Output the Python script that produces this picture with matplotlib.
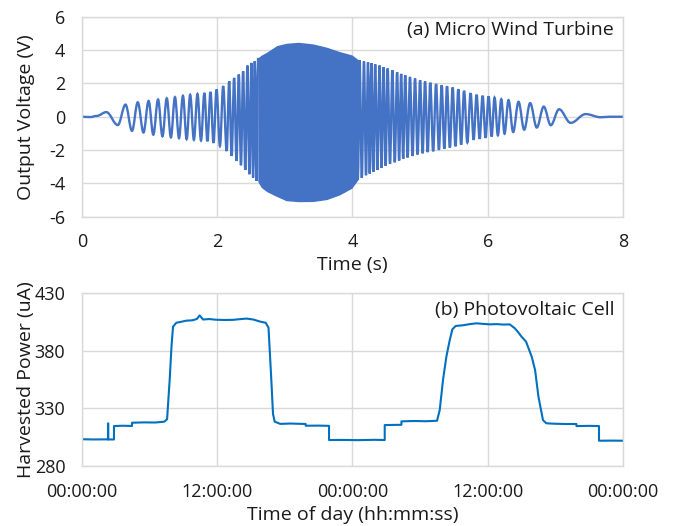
import matplotlib
matplotlib.use("Agg")
import matplotlib.pyplot as plt
from matplotlib.path import Path
from matplotlib.patches import PathPatch

plt.rcParams['font.family'] = ['Open Sans', 'DejaVu Sans']
plt.rcParams['axes.unicode_minus'] = False

# (a) micro wind turbine: peaks / troughs (s, V)
ext_t = [0.00, 0.12, 0.22, 0.36, 0.53, 0.644, 0.74, 0.825, 0.91, 0.985,
         1.055, 1.125, 1.19, 1.254, 1.315, 1.375, 1.435, 1.493, 1.548, 1.60,
         1.655, 1.708, 1.76, 1.81, 1.855, 1.90, 1.945, 1.99, 2.04, 2.088,
         2.14, 2.177, 2.213, 2.25, 2.285, 2.319, 2.351, 2.383, 2.415, 2.447,
         2.476, 2.506, 2.53, 2.555, 2.58, 2.604]
ext_v = [0.00, -0.02, 0.05, 0.28, -0.50, 0.73, -0.85, 0.87, -0.95, 0.95,
         -1.08, 1.04, -1.18, 1.11, -1.24, 1.18, -1.29, 1.26, -1.35, 1.32,
         -1.39, 1.37, -1.43, 1.43, -1.48, 1.50, -1.58, 1.64, -1.76, 1.84,
         -2.06, 2.14, -2.36, 2.34, -2.66, 2.54, -2.92, 2.74, -3.20, 3.08,
         -3.46, 3.24, -3.66, 3.34, -3.86, 3.54]

# solid band where the cycles are too dense to separate
env_t = [2.60, 2.65, 2.73, 2.88, 3.02, 3.20, 3.42, 3.62, 3.81, 3.99, 4.08]
env_hi = [3.54, 3.70, 3.88, 4.28, 4.42, 4.48, 4.38, 4.18, 3.92, 3.72, 3.45]
env_lo = [-3.90, -4.25, -4.50, -4.80, -5.05, -5.11, -5.10, -4.98, -4.70, -4.30, -3.80]

ext2_t = [4.08, 4.105, 4.138, 4.17, 4.20, 4.23, 4.255, 4.28, 4.308, 4.336,
          4.368, 4.40, 4.43, 4.46, 4.49, 4.52, 4.555, 4.59, 4.625, 4.66,
          4.69, 4.72, 4.75, 4.78, 4.815, 4.85, 4.888, 4.925, 4.962, 5.00,
          5.037, 5.073, 5.112, 5.15, 5.193, 5.236, 5.278, 5.319, 5.358, 5.398,
          5.44, 5.481, 5.523, 5.565, 5.607, 5.65, 5.698, 5.747, 5.791, 5.835,
          5.88, 5.924, 5.968, 6.012, 6.057, 6.101, 6.15, 6.20, 6.248, 6.307,
          6.376, 6.455, 6.539, 6.627, 6.725, 6.828, 6.932, 7.055, 7.227, 7.448,
          7.669, 7.80, 8.00]
ext2_v = [-3.80, 3.40, -3.68, 3.33, -3.52, 3.27, -3.42, 3.22, -3.32, 3.15,
          -3.20, 3.08, -3.08, 2.98, -2.95, 2.90, -2.84, 2.80, -2.74, 2.68,
          -2.63, 2.58, -2.53, 2.49, -2.45, 2.40, -2.36, 2.30, -2.27, 2.20,
          -2.20, 2.12, -2.13, 2.05, -2.08, 1.98, -2.00, 1.90, -1.93, 1.84,
          -1.86, 1.76, -1.78, 1.66, -1.68, 1.56, -1.55, 1.42, -1.39, 1.33,
          -1.33, 1.27, -1.27, 1.23, -1.19, 1.15, -1.12, 1.06, -1.02, 1.00,
          -0.92, 0.90, -0.78, 0.82, -0.65, 0.61, -0.51, 0.45, -0.37, 0.16,
          -0.03, 0.00, 0.00]

# (b) photovoltaic cell over two days (hours, uA)
pv_h = [0.0, 1.0, 2.31, 2.31, 2.33, 2.33, 2.84, 2.84, 3.6, 4.44,
        4.44, 5.5, 6.5, 7.3, 7.55, 7.78, 7.95, 8.08, 8.37, 8.8,
        9.25, 9.8, 10.2, 10.44, 10.74, 11.3, 11.9, 12.6, 13.4, 14.0,
        14.6, 15.2, 15.8, 16.3, 16.55, 16.8, 16.95, 17.1, 17.6, 18.5,
        19.85, 19.85, 21.0, 21.92, 21.92, 23.0, 24.5, 26.0, 26.86, 26.86,
        28.34, 28.34, 29.5, 30.5, 31.5, 31.74, 32.03, 32.33, 32.63, 32.86,
        33.16, 33.8, 34.4, 35.0, 35.6, 36.18, 36.8, 37.4, 37.95, 38.4,
        38.7, 39.0, 39.4, 39.9, 40.2, 40.5, 40.9, 41.2, 42.0, 43.0,
        43.87, 43.87, 45.0, 45.87, 45.87, 47.0, 48.0]
pv_val = [303.2, 303.0, 303.1, 317.0, 317.0, 303.0, 303.0, 314.6, 314.9, 314.7,
          317.5, 317.8, 317.7, 318.4, 320.5, 354.5, 385.0, 400.8, 404.2, 405.0,
          406.0, 406.3, 407.5, 410.6, 407.0, 407.4, 406.8, 406.6, 406.7, 407.3,
          407.8, 407.0, 405.2, 404.2, 399.9, 354.5, 325.0, 318.4, 316.5, 316.8,
          316.4, 314.9, 315.0, 314.8, 302.5, 302.6, 302.4, 302.7, 302.5, 315.5,
          315.7, 318.7, 319.0, 318.8, 319.2, 328.5, 354.5, 374.8, 389.2, 398.5,
          401.4, 402.0, 403.0, 403.7, 403.2, 402.8, 403.0, 402.6, 402.8, 399.4,
          396.0, 392.1, 387.8, 374.8, 363.2, 340.0, 319.8, 317.0, 316.6, 316.4,
          316.4, 314.6, 314.8, 314.6, 301.9, 302.0, 301.9]

pv_ticks = [0, 12, 24, 36, 48]
pv_labels = ["00:00:00", "12:00:00", "00:00:00", "12:00:00", "00:00:00"]

grid_c = "#D9D9D9"
txt_c = "#1a1a1a"
fs_tick = 13
fs_lab = 14


def smooth_path(ts, vs):
    # curved segments between extrema (flat tangent at each peak), like Excel's smoothed line
    verts = [(ts[0], vs[0])]
    codes = [Path.MOVETO]
    for i in range(len(ts) - 1):
        d = ts[i + 1] - ts[i]
        verts += [(ts[i] + 0.36 * d, vs[i]), (ts[i + 1] - 0.36 * d, vs[i + 1]),
                  (ts[i + 1], vs[i + 1])]
        codes += [Path.CURVE4] * 3
    return Path(verts, codes)


fig = plt.figure(figsize=(6.73, 5.26), dpi=100)
ax1 = fig.add_axes([0.1218, 0.5884, 0.8039, 0.3793])
ax2 = fig.add_axes([0.1218, 0.1141, 0.8039, 0.3289])

# top panel
wind_c = "#4472C4"
ax1.fill_between(env_t, env_lo, env_hi, color=wind_c, lw=0)
for ts, vs in ((ext_t, ext_v), (ext2_t, ext2_v)):
    ax1.add_patch(PathPatch(smooth_path(ts, vs), fc="none", ec=wind_c, lw=1.7))
ax1.set_xlim(0, 8)
ax1.set_ylim(-6, 6)
ax1.set_xticks([0, 2, 4, 6, 8])
ax1.set_yticks([-6, -4, -2, 0, 2, 4, 6])
ax1.set_xlabel("Time (s)", fontsize=fs_lab, color=txt_c)
ax1.set_ylabel("Output Voltage (V)", fontsize=fs_lab, color=txt_c)
ax1.xaxis.set_label_coords(0.5, -0.2)
ax1.yaxis.set_label_coords(-0.086, 0.5)
ax1.text(0.982, 0.935, "(a) Micro Wind Turbine", transform=ax1.transAxes,
         ha="right", va="center", fontsize=fs_lab, color=txt_c)

# bottom panel
ax2.plot(pv_h, pv_val, color="#0070C0", lw=1.5)
ax2.set_xlim(0, 48)
ax2.set_ylim(280, 430)
ax2.set_xticks(pv_ticks)
ax2.set_xticklabels(pv_labels)
ax2.set_yticks([280, 330, 380, 430])
ax2.set_xlabel("Time of day (hh:mm:ss)", fontsize=fs_lab, color=txt_c)
ax2.set_ylabel("Harvested Power (uA)", fontsize=fs_lab, color=txt_c)
ax2.xaxis.set_label_coords(0.5, -0.232)
ax2.yaxis.set_label_coords(-0.086, 0.5)
ax2.text(0.985, 0.902, "(b) Photovoltaic Cell", transform=ax2.transAxes,
         ha="right", va="center", fontsize=fs_lab, color=txt_c)

for ax in (ax1, ax2):
    ax.grid(True, color=grid_c, lw=1.0)
    ax.set_axisbelow(True)
    for s in ax.spines.values():
        s.set_color(grid_c)
        s.set_linewidth(1.0)
    ax.tick_params(length=0, labelsize=fs_tick, colors=txt_c, pad=12)
    ax.tick_params(axis="y", pad=12)

fig.savefig("out.png", dpi=100)
